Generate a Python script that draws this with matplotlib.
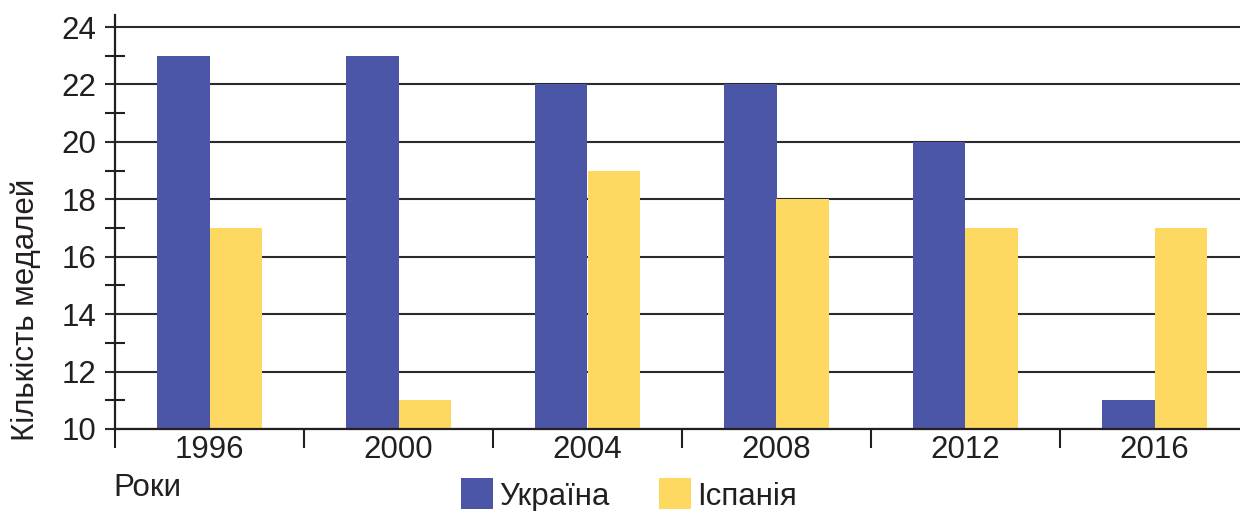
import numpy as np
import matplotlib
matplotlib.use("Agg")
from matplotlib import pyplot as plt
from matplotlib.patches import Patch
from matplotlib.ticker import MultipleLocator, FixedLocator

plt.rcParams['font.family'] = ['Liberation Sans', 'DejaVu Sans']

years = ['1996', '2000', '2004', '2008', '2012', '2016']
ukraine = [23, 23, 22, 22, 20, 11]
spain = [17, 11, 19, 18, 17, 17]

BLUE = '#4c56a6'
YELLOW = '#fed962'
INK = '#231f20'
FS = 22.5


def main():
    fig = plt.figure(figsize=(12.4, 5.11), dpi=100)
    ax = fig.add_axes([115 / 1240, 82 / 511, 1125 / 1240, 414 / 511])

    x = np.arange(len(years))
    w = 0.28
    ax.bar(x - w / 2, ukraine, w, bottom=0, color=BLUE, zorder=3)
    ax.bar(x + w / 2, spain, w, bottom=0, color=YELLOW, zorder=3)

    ax.set_xlim(-0.5, -0.5 + 1125 / 189)
    ax.set_ylim(10, 24.42)

    # y axis: labelled gridlines at even values, short crossing ticks at odd ones
    ax.yaxis.set_major_locator(MultipleLocator(2))
    ax.yaxis.set_minor_locator(FixedLocator(np.arange(11, 24, 2)))
    ax.grid(axis='y', which='major', color='#2b2b2b', lw=1.5, zorder=1)
    ax.tick_params(axis='y', which='major', direction='out', length=7.5,
                   width=1.5, color='#2b2b2b', labelsize=FS, labelcolor=INK, pad=6)
    ax.tick_params(axis='y', which='minor', direction='inout', length=15,
                   width=1.5, color=INK)

    # x axis: year labels at group centres, separators between groups
    ax.set_xticks(x)
    ax.set_xticklabels(years)
    ax.xaxis.set_minor_locator(FixedLocator(np.arange(-0.5, 5.0, 1.0)))
    ax.tick_params(axis='x', which='major', length=0, labelsize=FS,
                   labelcolor=INK, pad=4)
    ax.tick_params(axis='x', which='minor', direction='out', length=14,
                   width=1.5, color=INK)

    for side in ['top', 'right']:
        ax.spines[side].set_visible(False)
    for side in ['left', 'bottom']:
        ax.spines[side].set_color(INK)
        ax.spines[side].set_linewidth(1.6)
        ax.spines[side].set_zorder(4)

    fig.text(26 / 1240, 1 - 310 / 511, 'Кількість медалей', rotation=90,
             ha='center', va='center', fontsize=FS, color=INK)
    fig.text(113 / 1240, 1 - 488 / 511, 'Роки', ha='left', va='center',
             fontsize=FS, color=INK)

    handles = [Patch(facecolor=BLUE, label='Україна'),
               Patch(facecolor=YELLOW, label='Іспанія')]
    fig.legend(handles=handles, loc='center', bbox_to_anchor=(629 / 1240, 1 - 495 / 511),
               ncol=2, frameon=False, fontsize=FS, labelcolor=INK,
               handlelength=1.0, handleheight=1.15, handletextpad=0.2,
               columnspacing=1.6, borderpad=0, borderaxespad=0)

    fig.savefig('out.png', dpi=100)


if __name__ == "__main__":
    main()
